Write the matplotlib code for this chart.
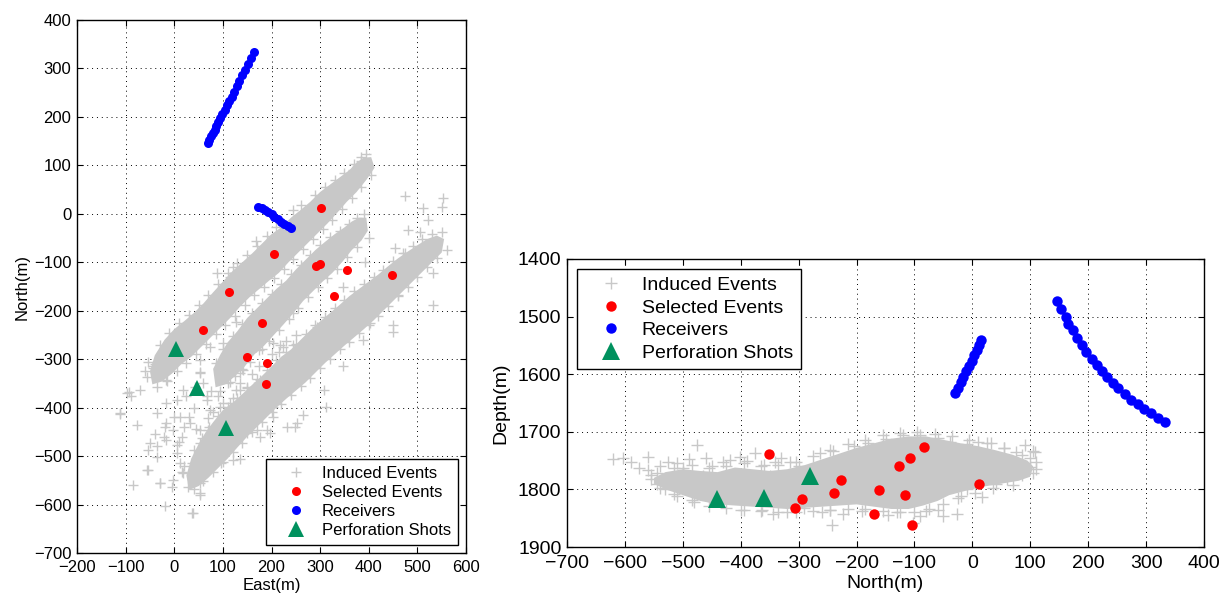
"""
Microseismic event map: plan view (East/North) and section view (North/Depth).
"""
import numpy as np
import matplotlib.pyplot as plt

plt.rcParams['font.family'] = ['Liberation Sans', 'DejaVu Sans']

# ---- receivers (two downhole arrays) ----
rec1_east = [69, 72, 76, 79, 83, 86, 90, 95, 99, 104, 108, 113, 118, 123, 129, 134, 140, 146, 152, 158, 164]
rec1_north = [147, 153, 161, 166, 174, 181, 189, 197, 206, 215, 224, 233, 242, 252, 263, 274, 286, 297, 309, 321, 333]
rec1_depth = [1473, 1487, 1500, 1512, 1524, 1537, 1550, 1561, 1573, 1584, 1595, 1604, 1615, 1624, 1635, 1644, 1652, 1661, 1668, 1676, 1683]

rec2_east = [173, 180, 186, 193, 200, 206, 213, 220, 226, 233, 240]
rec2_north = [15, 12, 8, 3, -1, -6, -11, -16, -20, -25, -30]
rec2_depth = [1540, 1549, 1558, 1567, 1577, 1586, 1595, 1605, 1614, 1624, 1633]

# ---- selected events ----
sel_east = [302, 205, 292, 300, 356, 448, 113, 329, 59, 181, 149, 191, 189]
sel_north = [11, -83, -107, -104, -116, -127, -162, -169, -239, -226, -295, -307, -351]
sel_depth = [1791, 1726, 1746, 1861, 1810, 1759, 1801, 1842, 1806, 1784, 1816, 1832, 1739]

# ---- perforation shots ----
perf_east = [4, 47, 107]
perf_north = [-280, -360, -441]
perf_depth = [1777, 1815, 1817]

# ---- induced events: dense cores of the three fracture trends (plan view) ----
band1_east = [-50, -40, -20, 0, 20, 40, 60, 80, 100, 120, 140, 160, 180, 200, 220, 240, 260, 280, 300, 320, 340,
              360, 375, 390, 405,
              412, 395, 375, 355, 335, 315, 295, 275, 255, 235, 215, 195, 175, 155, 135, 115, 95, 75, 55, 35, 15,
              -5, -25, -45]
band1_north = [-325, -292, -260, -238, -222, -205, -185, -162, -140, -118, -100, -82, -62, -42, -28, -8, 8, 25, 45,
               60, 75, 90, 106, 116, 117,
               95, 70, 45, 25, 2, -20, -40, -60, -80, -100, -122, -138, -155, -172, -192, -215, -235, -255, -275,
               -295, -310, -330, -346, -352]

band2_east = [80, 95, 110, 130, 150, 170, 190, 210, 230, 250, 270, 290, 310, 330, 350, 365, 380, 395,
              398, 385, 365, 345, 325, 305, 285, 265, 245, 225, 205, 185, 165, 145, 125, 105, 85]
band2_north = [-320, -290, -265, -242, -215, -195, -175, -155, -138, -115, -95, -75, -58, -42, -28, -16, -8, -8,
               -35, -55, -75, -100, -122, -140, -160, -180, -205, -228, -250, -272, -290, -315, -335, -352, -358]

band3_east = [25, 35, 50, 65, 80, 100, 120, 140, 160, 180, 200, 220, 240, 260, 280, 300, 320, 340, 360, 380, 400,
              420, 440, 460, 480, 500, 520, 540, 555,
              550, 530, 510, 490, 470, 450, 430, 410, 390, 370, 350, 330, 310, 290, 270, 250, 230, 210, 190, 170,
              150, 130, 110, 90, 70, 50, 30]
band3_north = [-540, -505, -475, -450, -430, -405, -390, -372, -353, -335, -315, -295, -280, -260, -240, -222, -205,
               -188, -170, -155, -140, -125, -108, -92, -78, -65, -52, -45, -52,
               -80, -100, -120, -140, -160, -180, -200, -220, -238, -255, -272, -290, -308, -328, -348, -365, -382,
               -400, -420, -440, -460, -482, -505, -525, -545, -562, -570]

# ---- induced events: dense core in section view ----
cloud_north = [-550, -530, -500, -470, -440, -410, -380, -350, -320, -290, -260, -230, -200, -170, -140, -110, -80,
               -50, -20, 10, 40, 70, 95, 105,
               100, 80, 50, 20, -10, -40, -60, -85, -110, -140, -170, -200, -230, -260, -290, -320, -350, -380,
               -410, -440, -470, -500, -530, -550]
cloud_depth = [1780, 1770, 1765, 1768, 1770, 1762, 1765, 1768, 1765, 1758, 1748, 1738, 1728, 1720, 1712, 1708,
               1708, 1714, 1720, 1725, 1732, 1740, 1750, 1760,
               1778, 1785, 1790, 1795, 1802, 1810, 1820, 1828, 1834, 1834, 1830, 1826, 1828, 1830, 1832, 1834, 1832,
               1830, 1828, 1826, 1820, 1810, 1800, 1790]

# ---- induced events: individual picks (plan view) ----
scat_east = [385, 399, 368, 474, 553, 550, 512, 522, 481, 505, 454, 474, 533, 392, 348, 245, 169, 87, 121, 115, 94,
             533, 450, 450, 389, 348, 307, 313, 265, 248, 245, 217, 169, 135, 128, 73, 94, 53, 53, 43, 25, 5, -16,
             -36, -16, -2, 15, -22, -36, -53, -53, -29, -5, -19, -84, 36, 53, 29, 15, 5, 5, 53, 70, 70, 94, 115, 67,
             -94, -88, -112, -77, -70, -57, -43, -22, 128, 149, 176, 163, 211, 204, 190, 176, 197, 149, 135, 121, 97,
             56, 36, 19, 245, 231, 293, 402, 402, 461,
             -40, -60, -20, 19, 53, 67, 12, 32, 53, -16, -50, -36, 12, -2, 53, 53, 39, -29, -57, -112, -98, -43, -16,
             74, 135, 115, 176, 204, 231, 252, 170, 142, 122, 101, 204, 224, 170]
scat_north = [108, 97, 90, 37, 32, 15, 11, -13, -33, -37, -71, -81, -123, -99, -150, 8, -57, -123, -109, -130, -164,
              -188, -229, -243, -260, -315, -364, -398, -415, -439, -271, -271, -274, -295, -223, -274, -308, -302,
              -326, -357, -377, -384, -391, -412, -432, -446, -460, -460, -480, -487, -529, -556, -563, -604, -560,
              -618, -580, -563, -532, -477, -494, -474, -446, -422, -398, -405, -384,
              -367, -377, -413, -436, -364, -336, -319, -315, -364, -357, -343, -357, -336, -398, -446, -460, -453,
              -453, -505, -508, -515, -525, -515, -535, -205, -185, -233, -226, -185, -167,
              -310, -325, -300, -363, -329, -377, -419, -432, -446, -467, -474, -501, -515, -549, -556, -577, -618,
              -556, -529, -412, -370, -315, -343, -405, -363, -391, -412, -419, -439, -432, -446, -322, -281, -267,
              -267, -274, -260]

# picks between the middle trend's tail and the lower trend
mid_east = [150, 165, 180, 200, 215, 230, 250, 140, 125, 110, 160, 175, 205, 225, 240, 60, 75, 90, 40, 30, 20, 80,
            100, 0, -20, -40, 10, 45, 65, 85, 120, 135, 210]
mid_north = [-250, -265, -280, -290, -285, -262, -250, -320, -335, -350, -330, -315, -330, -320, -300, -350, -365,
             -375, -400, -420, -440, -410, -390, -420, -440, -455, -470, -445, -470, -455, -380, -350, -350]

# picks along the edges of each trend
edge1_east = [-55, -30, -10, 10, 30, 50, 70, 90, 110, 130, 150, 170, 190, 210, 260, 290, 310, 330, 350, 370, 385, 395,
              405, 385, 365, 345, 325, 305, 285, 265, 245, 225, 205, 185, 165, 145, 125, 105, 85, 65, 45, 25, 5,
              -15, -35]
edge1_north = [-305, -270, -245, -225, -208, -188, -168, -145, -123, -102, -85, -66, -45, -28, 18, 38, 55, 70, 85,
               102, 118, 124,
               80, 55, 32, 10, -13, -32, -52, -72, -93, -113, -132, -150, -168, -188, -210, -230, -248, -268, -290,
               -308, -325, -345, -358]

edge2_east = [85, 100, 120, 140, 160, 180, 200, 220, 240, 260, 280, 300, 320, 340, 360, 375, 390,
              400, 375, 355, 335, 315, 295, 275, 255, 235, 215, 195, 175, 155, 135, 115, 95]
edge2_north = [-308, -280, -252, -228, -205, -185, -165, -145, -125, -105, -85, -65, -48, -35, -20, -8, 0,
               -50, -68, -90, -113, -132, -152, -172, -195, -218, -240, -262, -282, -305, -328, -348, -365]

edge3_east = [20, 40, 58, 72, 90, 110, 130, 150, 170, 190, 210, 230, 250, 270, 290, 310, 330, 350, 370, 390, 410,
              430, 450, 470, 490, 510, 530, 550,
              560, 540, 520, 500, 480, 460, 440, 420, 400, 380, 360, 340, 320, 300, 280, 260, 240, 220, 200, 180,
              160, 140, 120, 100, 80, 60, 40]
edge3_north = [-520, -488, -462, -440, -418, -398, -380, -360, -340, -322, -302, -285, -268, -248, -230, -212, -195,
               -177, -160, -145, -130, -115, -98, -80, -66, -53, -42, -37,
               -75, -92, -110, -130, -150, -170, -190, -210, -230, -246, -264, -280, -300, -318, -338, -356, -374,
               -392, -410, -430, -450, -472, -492, -512, -532, -552, -568]

# ---- induced events: individual picks (section view) ----
sec_north = [-620, -603, -590, -575, -560, -560, -555, -540, -525, -510, -500, -490, -476, -460, -450, -430, -419,
             -401, -390, -375, -360, -340, -330, -315, -300, -263, -240, -205, -180, -150, -120, -90, -60, -39, -10,
             10, 33, 55, 75, 91, 100, 108, 99, 110, 85, 16, 40, -10, -27, -50, -60, -90, -102, -80, -130, -145,
             -190, -223, -246, -243, -260, -290, -320, -364, -345, -400, -459, -480, -510, -530, -545, -555, -500,
             -465, -420, 105, -350, -280, -200, -170, -20, 60,
             -545, -515, -485, -455, -425, -395, -365, -335, -305, -275, -245, -215, -185, -155, -125, -95, -65,
             -35, -5, 25, 55, 85, 110,
             105, 70, 35, 5, -25, -50, -75, -100, -125, -155, -185, -215, -245, -275, -305, -335, -365, -395,
             -425, -455, -485, -515, -540]
sec_depth = [1748, 1746, 1752, 1762, 1743, 1766, 1775, 1760, 1752, 1755, 1762, 1748, 1723, 1745, 1760, 1752, 1749,
             1743, 1750, 1737, 1758, 1752, 1745, 1752, 1760, 1736, 1733, 1725, 1720, 1712, 1705, 1705, 1710, 1717,
             1722, 1718, 1720, 1728, 1735, 1723, 1745, 1735, 1761, 1765, 1775, 1813, 1790, 1800, 1842, 1847, 1835,
             1847, 1859, 1838, 1840, 1845, 1838, 1842, 1836, 1862, 1840, 1832, 1840, 1836, 1843, 1835, 1795, 1822,
             1812, 1800, 1790, 1782, 1770, 1776, 1780, 1734, 1776, 1768, 1745, 1735, 1812, 1782,
             1772, 1762, 1758, 1762, 1760, 1755, 1760, 1758, 1752, 1742, 1732, 1722, 1714, 1706, 1702, 1700, 1703,
             1708, 1714, 1720, 1728, 1740, 1752,
             1772, 1792, 1798, 1806, 1815, 1826, 1834, 1840, 1840, 1838, 1834, 1834, 1836, 1838, 1840, 1840, 1838,
             1836, 1833, 1828, 1818, 1808, 1798]

GRAY = '#c8c8c8'
RED = '#ff0000'
BLUE = '#0000ff'
GREEN = '#00915e'


def style_axes(ax, fs, xpad):
    ax.tick_params(direction='in', top=True, right=True, length=4, width=0.8,
                   labelsize=fs, pad=4)
    ax.tick_params(axis='x', pad=xpad)
    ax.grid(True, color='k', linestyle=(0, (1, 4)), linewidth=0.7)
    ax.set_axisbelow(True)
    for s in ax.spines.values():
        s.set_linewidth(1.0)


def legend_box(ax, loc, fs):
    leg = ax.legend(loc=loc, fontsize=fs, labelspacing=0.25, handlelength=2.75,
                    handletextpad=0.2, borderaxespad=0.5, fancybox=False, framealpha=1,
                    edgecolor='k')
    leg.get_frame().set_linewidth(1.0)
    return leg


fig = plt.figure(figsize=(12.25, 5.96), dpi=100)

# Plan view
ax1 = fig.add_axes([77 / 1225, 1 - 553 / 596, 389 / 1225, 533 / 596])
for bx, by in [(band1_east, band1_north), (band2_east, band2_north), (band3_east, band3_north)]:
    ax1.fill(bx, by, color=GRAY, lw=0, zorder=1)
ev_east = scat_east + mid_east + edge1_east + edge2_east + edge3_east
ev_north = scat_north + mid_north + edge1_north + edge2_north + edge3_north
ax1.plot(ev_east, ev_north, '+', color=GRAY, ms=7, mew=1.0, zorder=1, label='Induced Events')
ax1.plot(sel_east, sel_north, 'o', color=RED, ms=6.5, mew=0, zorder=3, label='Selected Events')
ax1.plot(rec1_east + rec2_east, rec1_north + rec2_north, 'o', color=BLUE, ms=6.5, mew=0, zorder=3,
         label='Receivers')
ax1.plot(perf_east, perf_north, '^', color=GREEN, ms=11, mew=0, zorder=4, label='Perforation Shots')
ax1.set_xlim(-200, 600)
ax1.set_ylim(-700, 400)
ax1.set_xticks(np.arange(-200, 601, 100))
ax1.set_yticks(np.arange(-700, 401, 100))
style_axes(ax1, 12, 5)
ax1.set_xlabel('East(m)', fontsize=12, labelpad=2)
ax1.set_ylabel('North(m)', fontsize=12, labelpad=3)
legend_box(ax1, 'lower right', 12)

# Section view
ax2 = fig.add_axes([567 / 1225, 1 - 547 / 596, 637 / 1225, 288 / 596])
ax2.fill(cloud_north, cloud_depth, color=GRAY, lw=0, zorder=1)
ax2.plot(sec_north, sec_depth, '+', color=GRAY, ms=8, mew=1.0, zorder=1, label='Induced Events')
ax2.plot(sel_north, sel_depth, 'o', color=RED, ms=7.5, mew=0, zorder=3, label='Selected Events')
ax2.plot(rec1_north + rec2_north, rec1_depth + rec2_depth, 'o', color=BLUE, ms=7.5, mew=0, zorder=3,
         label='Receivers')
ax2.plot(perf_north, perf_depth, '^', color=GREEN, ms=12.5, mew=0, zorder=4, label='Perforation Shots')
ax2.set_xlim(-700, 400)
ax2.set_ylim(1900, 1400)
ax2.set_xticks(np.arange(-700, 401, 100))
ax2.set_yticks(np.arange(1400, 1901, 100))
style_axes(ax2, 14, 6)
ax2.set_xlabel('North(m)', fontsize=14, labelpad=2)
ax2.set_ylabel('Depth(m)', fontsize=14, labelpad=6)
legend_box(ax2, 'upper left', 14)

fig.savefig('out.png', dpi=100)
